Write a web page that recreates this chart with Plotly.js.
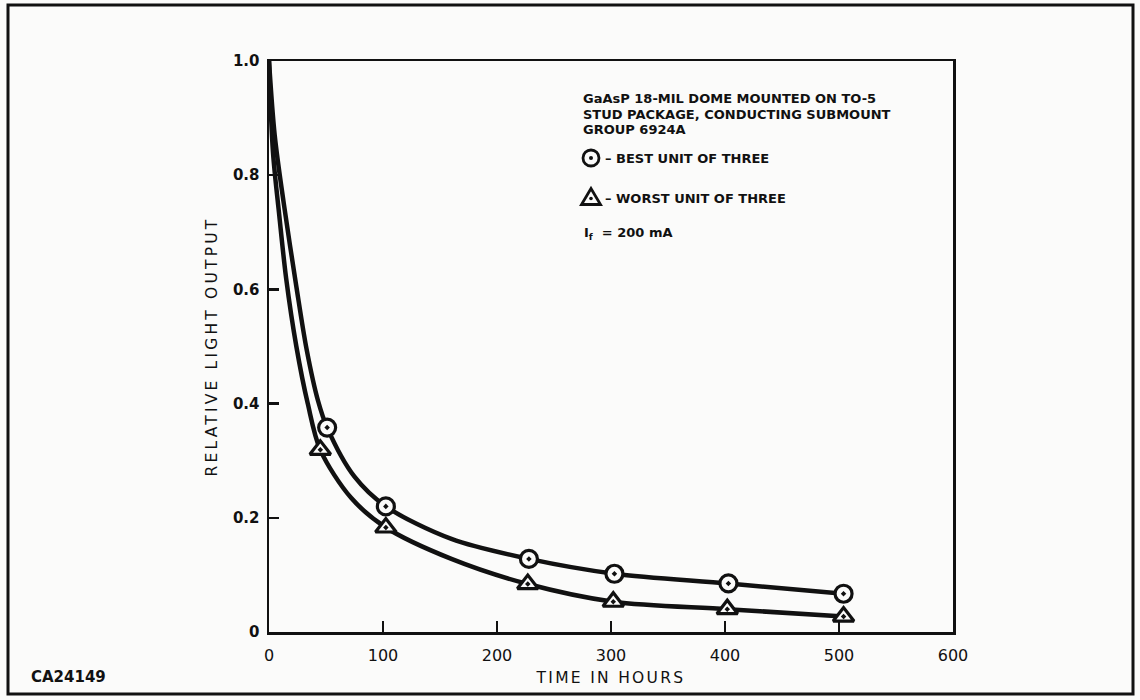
<!DOCTYPE html>
<html>
<head>
<meta charset="utf-8">
<script src="https://cdn.plot.ly/plotly-3.0.1.min.js"></script>
<style>
html,body{margin:0;padding:0;background:#fbfbfa;}
#chart{width:1140px;height:700px;}
.xtitle{letter-spacing:2.3px;}
.ytitle{letter-spacing:3.2px;}
</style>
</head>
<body>
<div id="chart"></div>
<script>
// Smooth drawn curves
const bestCurveX  = [0, 5, 13, 24, 33, 43, 51, 75, 102.5, 160, 228, 303, 403, 504];
const bestCurveY  = [1.0, 0.87, 0.75, 0.605, 0.495, 0.405, 0.358, 0.272, 0.22, 0.163, 0.128, 0.102, 0.085, 0.067];
const worstCurveX = [0, 3.5, 9, 15, 24, 34, 45, 72, 102.5, 160, 227, 302, 402, 504];
const worstCurveY = [1.0, 0.84, 0.73, 0.62, 0.50, 0.40, 0.319, 0.235, 0.183, 0.128, 0.084, 0.053, 0.040, 0.027];

// Measured points
const bestX  = [51, 102.5, 228, 303, 403, 504];
const bestY  = [0.358, 0.22, 0.128, 0.102, 0.085, 0.067];
const worstX = [45, 102.5, 227, 302, 402, 504];
const worstY = [0.319, 0.183, 0.084, 0.053, 0.040, 0.027];

const xTickVals = [0, 100, 200, 300, 400, 500, 600];
const xTickText = ['0', '100', '200', '300', '400', '500', '600'];
const yTickVals = [0, 0.2, 0.4, 0.6, 0.8, 1.0];
const yTickText = ['0', '0.2', '0.4', '0.6', '0.8', '1.0'];

const infoLines = [
  'GaAsP 18-MIL DOME MOUNTED ON TO-5',
  'STUD PACKAGE, CONDUCTING SUBMOUNT',
  'GROUP 6924A'
];
const bestLabel = '– BEST UNIT OF THREE';
const worstLabel = '– WORST UNIT OF THREE';
const currentLabel = 'I<sub>f</sub>  = 200 mA';
const xTitle = 'TIME IN HOURS';
const yTitle = 'RELATIVE LIGHT OUTPUT';
const figId = 'CA24149';

// plot area pixel geometry helpers (for paper coords)
const L = 269, R = 953, T = 61, B = 632;
const px = v => (v - L) / (R - L);
const py = v => (B - v) / (B - T);

const ink = '#111';
const bg = '#fbfbfa';
const fontFam = 'DejaVu Sans, Liberation Sans, Arial, sans-serif';

const traces = [
  {x: bestCurveX, y: bestCurveY, mode: 'lines', line: {color: ink, width: 4.5, shape: 'spline', smoothing: 0.9}, hoverinfo: 'skip', showlegend: false},
  {x: worstCurveX, y: worstCurveY, mode: 'lines', line: {color: ink, width: 4.5, shape: 'spline', smoothing: 0.9}, hoverinfo: 'skip', showlegend: false},
  {x: bestX, y: bestY, mode: 'markers', marker: {symbol: 'circle-dot', size: 17, color: bg, line: {color: ink, width: 3.2}}, showlegend: false},
  {x: worstX, y: worstY, mode: 'markers', marker: {symbol: 'triangle-up-dot', size: 18, color: bg, line: {color: ink, width: 3.2}}, showlegend: false}
];

const annFont = {family: fontFam, size: 13, color: ink, weight: 'bold'};
const annotations = [];
const infoY = [98, 114, 129];
infoLines.forEach((t, i) => annotations.push({
  xref: 'paper', yref: 'paper', x: px(581), y: py(infoY[i]), xanchor: 'left', yanchor: 'middle',
  text: t, showarrow: false, font: annFont
}));
annotations.push({xref: 'paper', yref: 'paper', x: px(603), y: py(158), xanchor: 'left', yanchor: 'middle', text: bestLabel, showarrow: false, font: annFont});
annotations.push({xref: 'paper', yref: 'paper', x: px(603), y: py(198), xanchor: 'left', yanchor: 'middle', text: worstLabel, showarrow: false, font: annFont});
annotations.push({xref: 'paper', yref: 'paper', x: px(582), y: py(234), xanchor: 'left', yanchor: 'middle', text: currentLabel, showarrow: false, font: annFont});
annotations.push({xref: 'paper', yref: 'paper', x: px(29), y: py(677), xanchor: 'left', yanchor: 'middle', text: figId, showarrow: false, font: {family: fontFam, size: 15, color: ink, weight: 'bold'}});

const shapes = [
  // outer frame
  {type: 'rect', xref: 'paper', yref: 'paper', x0: px(8), x1: px(1133), y0: py(694), y1: py(5), line: {color: ink, width: 3}},
  // legend circle symbol
  {type: 'circle', xref: 'paper', yref: 'paper', xsizemode: 'pixel', ysizemode: 'pixel', xanchor: px(591), yanchor: py(158), x0: -8, x1: 8, y0: -8, y1: 8, line: {color: ink, width: 2.8}},
  {type: 'circle', xref: 'paper', yref: 'paper', xsizemode: 'pixel', ysizemode: 'pixel', xanchor: px(591), yanchor: py(158), x0: -2, x1: 2, y0: -2, y1: 2, fillcolor: ink, line: {color: ink, width: 0}},
  // legend triangle symbol
  {type: 'path', xref: 'paper', yref: 'paper', xsizemode: 'pixel', ysizemode: 'pixel', xanchor: px(591), yanchor: py(198), path: 'M -9.5,-6.5 L 9.5,-6.5 L 0,9.5 Z', line: {color: ink, width: 2.8}},
  {type: 'circle', xref: 'paper', yref: 'paper', xsizemode: 'pixel', ysizemode: 'pixel', xanchor: px(591), yanchor: py(198), x0: -1.8, x1: 1.8, y0: -2.3, y1: 1.3, fillcolor: ink, line: {color: ink, width: 0}}
];

const layout = {
  width: 1140, height: 700,
  margin: {l: L, r: 1140 - R, t: T, b: 700 - B, pad: 0},
  paper_bgcolor: bg, plot_bgcolor: bg,
  showlegend: false,
  xaxis: {
    range: [0, 600], tickvals: xTickVals, ticktext: xTickText,
    ticks: 'inside', ticklen: 11, tickwidth: 2.5, tickcolor: ink,
    showline: true, linewidth: 2.5, linecolor: ink, mirror: true,
    showgrid: false, zeroline: false, ticklabelstandoff: 7,
    tickfont: {family: fontFam, size: 16, color: ink},
    title: {text: xTitle, font: {family: fontFam, size: 15.5, color: ink}, standoff: 9}
  },
  yaxis: {
    range: [0, 1.0], tickvals: yTickVals, ticktext: yTickText,
    ticks: 'inside', ticklen: 10, tickwidth: 2.5, tickcolor: ink,
    showline: true, linewidth: 2.5, linecolor: ink, mirror: true,
    showgrid: false, zeroline: false, ticklabelstandoff: 4,
    tickfont: {family: fontFam, size: 15, color: ink, weight: 'bold'},
    title: {text: yTitle, font: {family: fontFam, size: 15.5, color: ink}, standoff: 12}
  },
  annotations: annotations,
  shapes: shapes
};

Plotly.newPlot('chart', traces, layout, {staticPlot: true, displayModeBar: false});
</script>
</body>
</html>
